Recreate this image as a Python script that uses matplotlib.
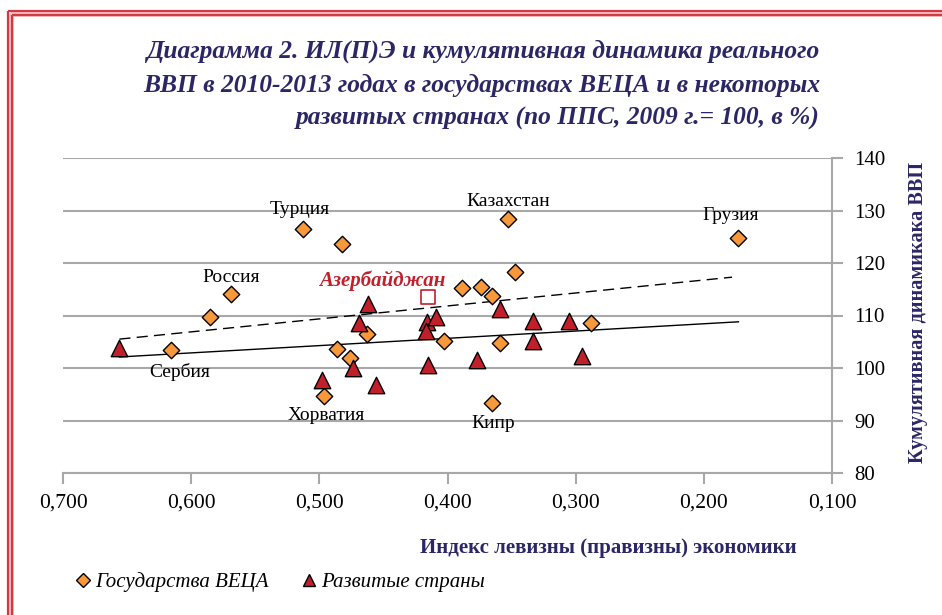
import matplotlib
matplotlib.use("Agg")
import matplotlib.pyplot as plt
from matplotlib.lines import Line2D

# ---- data ----
veca_x = [0.513, 0.482, 0.569, 0.585, 0.616, 0.353, 0.173, 0.347, 0.389, 0.374,
          0.365, 0.463, 0.486, 0.476, 0.403, 0.359, 0.288, 0.496, 0.365]
veca_y = [126.5, 123.6, 114.1, 109.7, 103.4, 128.4, 124.8, 118.3, 115.2, 115.4,
          113.7, 106.5, 103.6, 101.9, 105.1, 104.8, 108.6, 94.7, 93.3]
dev_x = [0.656, 0.462, 0.469, 0.416, 0.409, 0.417, 0.359, 0.333, 0.305, 0.333,
         0.377, 0.415, 0.295, 0.474, 0.498, 0.456]
dev_y = [103.8, 112.2, 108.6, 108.8, 109.7, 107.0, 111.2, 109.0, 109.0, 105.1,
         101.5, 100.6, 102.3, 100.0, 97.7, 96.8]
aze_x = [0.415]
aze_y = [113.5]
trend_solid_x = [0.656, 0.173]
trend_solid_y = [102.1, 108.8]
trend_dash_x = [0.656, 0.178]
trend_dash_y = [105.5, 117.3]

x_ticks = [0.7, 0.6, 0.5, 0.4, 0.3, 0.2, 0.1]
x_tick_labels = ["0,700", "0,600", "0,500", "0,400", "0,300", "0,200", "0,100"]
y_ticks = [80, 90, 100, 110, 120, 130, 140]

labels = ["Турция", "Россия", "Сербия", "Хорватия", "Казахстан", "Кипр", "Грузия"]
label_pos = [(0.515, 130.1), (0.569, 117.3), (0.609, 99.2), (0.495, 90.9),
             (0.353, 131.8), (0.364, 89.5), (0.179, 129.0)]

title = ("Диаграмма 2. ИЛ(П)Э и кумулятивная динамика реального\n"
         "ВВП в 2010-2013 годах в государствах ВЕЦА и в некоторых\n"
         "развитых странах (по ППС, 2009 г.= 100, в %)")

NAVY = "#2B2766"
ORANGE = "#F7993B"
RED = "#C1202B"
GRID = "#A8A8A8"
SERIF = "Liberation Serif"

W, H = 942, 615
fig = plt.figure(figsize=(W / 100, H / 100), dpi=100)
ax = fig.add_axes([63 / W, 1 - 473 / H, (832 - 63) / W, (473 - 158) / H])

ax.set_xlim(0.7, 0.1)
ax.set_ylim(80, 140)

for yv in y_ticks:
    ax.axhline(yv, color=GRID, lw=1.5, zorder=0)

ax.plot(trend_dash_x, trend_dash_y, color="black", lw=1.0, ls=(0, (8, 4.5)), zorder=2)
ax.plot(trend_solid_x, trend_solid_y, color="black", lw=1.0, zorder=2)

ax.scatter(veca_x, veca_y, marker="D", s=70, facecolor=ORANGE, edgecolor="black",
           linewidths=1.0, zorder=3)
ax.scatter(dev_x, dev_y, marker="^", s=140, facecolor=RED, edgecolor="black",
           linewidths=1.0, zorder=3)
ax.scatter(aze_x, aze_y, marker="s", s=110, facecolor="white", edgecolor=RED,
           linewidths=1.2, zorder=3)

for name, (lx, ly) in zip(labels, label_pos):
    ax.text(lx, ly, name, ha="center", va="center", fontsize=14, family=SERIF,
            color="black", zorder=4)
ax.text(0.451, 116.6, "Азербайджан", ha="center", va="center", fontsize=15,
        family=SERIF, fontweight="bold", fontstyle="italic", color=RED, zorder=4)

for s in ["top", "left"]:
    ax.spines[s].set_visible(False)
for s in ["right", "bottom"]:
    ax.spines[s].set_color(GRID)
    ax.spines[s].set_linewidth(1.5)

ax.yaxis.tick_right()
ax.set_yticks(y_ticks)
ax.set_yticklabels([str(v) for v in y_ticks], family=SERIF, fontsize=15)
ax.set_xticks(x_ticks)
ax.set_xticklabels(x_tick_labels, family=SERIF, fontsize=15.5)
ax.tick_params(axis="y", direction="out", length=8, width=1.5, color=GRID, pad=8)
ax.tick_params(axis="x", direction="out", length=8, width=1.5, color=GRID, pad=7)

# axis titles
fig.text(918 / W, 1 - 312 / H, "Кумулятивная динамикака ВВП", rotation=90,
         ha="center", va="center", fontsize=14.6, family=SERIF, fontweight="bold",
         color=NAVY)
fig.text(608 / W, 1 - 548 / H, "Индекс левизны (правизны) экономики",
         ha="center", va="center", fontsize=15, family=SERIF, fontweight="bold",
         color=NAVY)

# title
fig.text(820 / W, 1 - 85 / H, title, ha="right", va="center", fontsize=18.4,
         family=SERIF, fontweight="bold", fontstyle="italic", color=NAVY,
         linespacing=1.58, multialignment="right")

# legend
handles = [
    Line2D([], [], marker="D", ls="none", markersize=7, markerfacecolor=ORANGE,
           markeredgecolor="black", markeredgewidth=1.0),
    Line2D([], [], marker="^", ls="none", markersize=9, markerfacecolor=RED,
           markeredgecolor="black", markeredgewidth=1.0),
]
fig.legend(handles, ["Государства ВЕЦА", "Развитые страны"], loc="center left",
           bbox_to_anchor=(57 / W, 1 - 582 / H), ncol=2, frameon=False,
           prop={"family": SERIF, "style": "italic", "size": 15},
           handlelength=0.7, handletextpad=0.25, columnspacing=1.55)

# decorative double red frame (top and left)
def fline(x0, y0, x1, y1, color, lw):
    fig.add_artist(Line2D([x0 / W, x1 / W], [1 - y0 / H, 1 - y1 / H], color=color,
                          lw=lw, transform=fig.transFigure, solid_capstyle="butt"))

fline(10, 13, W, 13, "#F2C4C4", 5)
fline(10, 13, 10, H, "#F2C4C4", 5)
fline(8, 11, W, 11, "#D23A43", 1.6)
fline(12, 15, W, 15, "#D23A43", 1.6)
fline(8, 11, 8, H, "#D23A43", 1.6)
fline(12, 15, 12, H, "#D23A43", 1.6)

fig.savefig("out.png", dpi=100)
